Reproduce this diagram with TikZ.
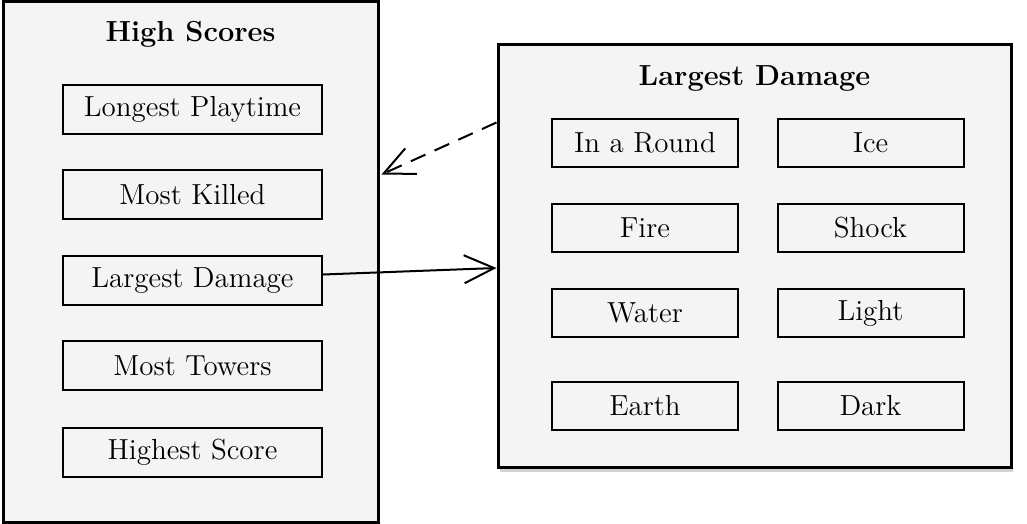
\documentclass[tikz,border=0pt]{standalone}
\usepackage{tikz}
\definecolor{panelgray}{HTML}{F4F4F4}
\usetikzlibrary{arrows.meta,shadows}
\tikzstyle{panel}=[rectangle, draw=black, fill=panelgray, line width=1.5pt, drop shadow={shadow xshift=1pt, shadow yshift=-2.5pt, opacity=0.35}]
\tikzstyle{entry}=[rectangle, draw=black, line width=1pt, minimum width=129.5pt, minimum height=24.5pt, inner sep=0pt, font=\fontsize{14.5}{17}\selectfont]
\tikzstyle{smallentry}=[entry, minimum width=93pt, minimum height=24pt]
\tikzstyle{heading}=[font=\fontsize{14.5}{17}\selectfont\bfseries]
\tikzstyle{link}=[line width=1pt, -{Straight Barb[length=15pt, width=14pt, line width=1pt]}]

\begin{document}
\begin{tikzpicture}[x=0.5pt, y=-0.5pt]
			\useasboundingbox (0,0) rectangle (1027,524);
			% the two panels
			\node[panel, minimum width=187.5pt, minimum height=260pt] (scores) at (190.5,262) {};
			\node[panel, minimum width=256.5pt, minimum height=211pt] (damage) at (754.5,256) {};
			\node[heading] (scorestitle) at (190.5,34) {High Scores};
			\node[heading] (damagetitle) at (754.5,78) {Largest Damage};
			% high scores list
			\node[entry] (playtime) at (192.5,109.5) {Longest Playtime};
			\node[entry] (killed)   at (192.5,194.5) {Most Killed};
			\node[entry] (lgdamage) at (192.5,280.5) {Largest Damage};
			\node[entry] (towers)   at (192.5,365.5) {Most Towers};
			\node[entry] (highest)  at (192.5,452.5) {Highest Score};
			% largest damage list
			\node[smallentry] (round) at (645,143)   {In a Round};
			\node[smallentry] (ice)   at (870.5,143) {Ice};
			\node[smallentry] (fire)  at (645,228)   {Fire};
			\node[smallentry] (shock) at (870.5,228) {Shock};
			\node[smallentry] (water) at (645,313)   {Water};
			\node[smallentry] (light) at (870.5,313) {Light};
			\node[smallentry] (earth) at (645,405.5) {Earth};
			\node[smallentry] (dark)  at (870.5,405.5) {Dark};
			% links
			\draw[link] ([yshift=3pt]lgdamage.east) -- ([yshift=-6pt]damage.west);
			\draw[link, dash pattern=on 8pt off 5pt] ([yshift=-39.5pt]damage.north west) -- ([xshift=1pt, yshift=-87pt]scores.north east);
		\end{tikzpicture}
\end{document}
